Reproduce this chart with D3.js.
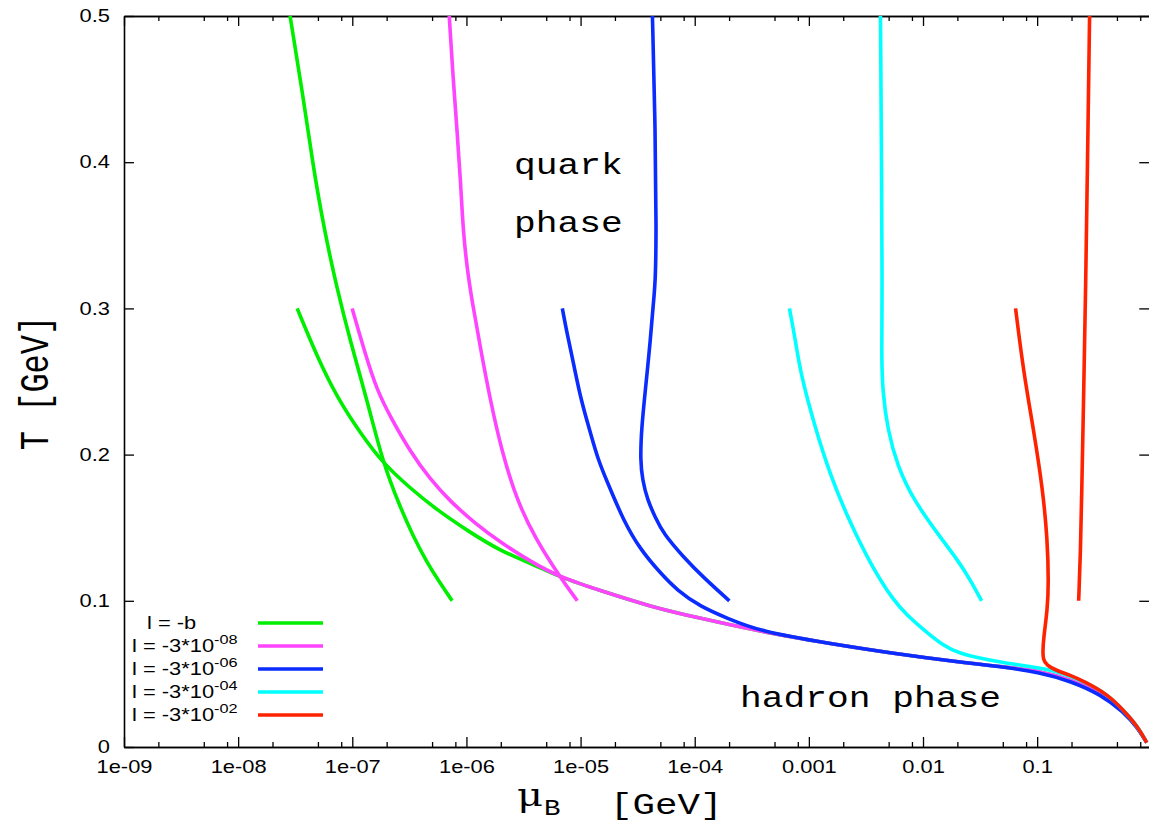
<!DOCTYPE html>
<html>
<head>
<meta charset="utf-8">
<script src="https://cdn.jsdelivr.net/npm/d3@7"></script>
<style>
  html, body { margin: 0; padding: 0; background: #fff; }
  svg { display: block; }
</style>
</head>
<body>
<svg id="chart" width="1149" height="829"></svg>
<script>
// ---------------- data ----------------
const xMajorTicks = [1e-9, 1e-8, 1e-7, 1e-6, 1e-5, 1e-4, 1e-3, 1e-2, 1e-1];
const xTickLabels = ["1e-09", "1e-08", "1e-07", "1e-06", "1e-05", "1e-04", "0.001", "0.01", "0.1"];
const xMinorFactors = [2, 5, 8];
const yTicks = [0, 0.1, 0.2, 0.3, 0.4, 0.5];
const yTickLabels = ["0", "0.1", "0.2", "0.3", "0.4", "0.5"];

const legendBase = ["l = -b", "l = -3*10", "l = -3*10", "l = -3*10", "l = -3*10"];
const legendSup  = ["", "-08", "-06", "-04", "-02"];
const seriesColors = ["#00ee00", "#ff44ff", "#0a2cff", "#00ffff", "#ff2200"];

// each l value: upper branch (from T=0.5) and lower branch (from T=0.3 into hadron boundary)
const greenUpper = [[2.85e-8,0.500],[3.64e-8,0.449],[4.54e-8,0.397],[5.67e-8,0.354],[7.37e-8,0.313],[9.58e-8,0.278],[1.35e-7,0.237],[1.86e-7,0.194],[2.63e-7,0.164],[3.42e-7,0.144],[4.53e-7,0.126],[5.89e-7,0.112],[7.50e-7,0.100]];
const greenLower = [[3.29e-8,0.300],[4.92e-8,0.267],[7.37e-8,0.239],[1.17e-7,0.215],[1.86e-7,0.194],[3.22e-7,0.177],[5.55e-7,0.162],[1.02e-6,0.148],[1.98e-6,0.134],[3.85e-6,0.125],[6.64e-6,0.116],[1.49e-5,0.107],[4.09e-5,0.096],[1.12e-4,0.088],[3.76e-4,0.079],[1.46e-3,0.071],[5.51e-3,0.064],[2.13e-2,0.058],[4.78e-2,0.055],[0.107,0.052],[0.197,0.046],[0.360,0.037],[0.573,0.025],[0.760,0.014],[0.911,0.003]];

const magentaUpper = [[7.07e-7,0.500],[7.60e-7,0.460],[8.31e-7,0.420],[8.90e-7,0.386],[9.37e-7,0.352],[1.02e-6,0.326],[1.12e-6,0.305],[1.34e-6,0.271],[1.62e-6,0.237],[2.03e-6,0.203],[2.75e-6,0.169],[4.05e-6,0.142],[6.64e-6,0.116],[9.36e-6,0.100]];
const magentaLower = [[9.97e-8,0.300],[1.32e-7,0.267],[1.65e-7,0.244],[2.15e-7,0.226],[3.22e-7,0.202],[4.82e-7,0.183],[7.21e-7,0.168],[1.19e-6,0.153],[1.98e-6,0.140],[3.62e-6,0.127],[6.64e-6,0.116],[1.49e-5,0.107],[4.09e-5,0.096],[1.12e-4,0.088],[3.76e-4,0.079],[1.46e-3,0.071],[5.51e-3,0.064],[2.13e-2,0.058],[4.78e-2,0.055],[0.107,0.052],[0.197,0.046],[0.360,0.037],[0.573,0.025],[0.760,0.014],[0.911,0.003]];

const blueUpper = [[4.26e-5,0.500],[4.52e-5,0.420],[4.61e-5,0.352],[4.52e-5,0.317],[4.34e-5,0.304],[4.09e-5,0.278],[3.69e-5,0.244],[3.41e-5,0.217],[3.34e-5,0.196],[3.48e-5,0.183],[3.85e-5,0.169],[4.52e-5,0.157],[5.31e-5,0.146],[7.95e-5,0.130],[1.19e-4,0.116],[2.01e-4,0.100]];
const blueLower = [[6.92e-6,0.300],[7.65e-6,0.282],[8.64e-6,0.263],[1.01e-5,0.237],[1.22e-5,0.215],[1.43e-5,0.196],[1.72e-5,0.181],[2.37e-5,0.155],[3.34e-5,0.135],[5.00e-5,0.119],[7.05e-5,0.107],[1.12e-4,0.096],[1.93e-4,0.088],[3.76e-4,0.079],[1.46e-3,0.071],[5.51e-3,0.064],[2.13e-2,0.058],[4.78e-2,0.055],[0.107,0.051],[0.197,0.045],[0.360,0.036],[0.573,0.024],[0.760,0.013],[0.911,0.003]];

const cyanUpper = [[4.24e-3,0.500],[4.33e-3,0.400],[4.40e-3,0.313],[4.33e-3,0.267],[4.42e-3,0.244],[4.89e-3,0.217],[5.98e-3,0.192],[8.26e-3,0.169],[1.34e-2,0.146],[2.01e-2,0.128],[2.61e-2,0.114],[3.26e-2,0.100]];
const cyanLower = [[6.76e-4,0.300],[7.63e-4,0.278],[8.44e-4,0.256],[1.10e-3,0.222],[1.55e-3,0.185],[2.31e-3,0.153],[3.47e-3,0.125],[5.51e-3,0.100],[7.32e-3,0.090],[9.51e-3,0.082],[1.51e-2,0.069],[2.13e-2,0.064],[3.01e-2,0.061],[4.78e-2,0.058],[0.107,0.054],[0.161,0.051],[0.255,0.045],[0.415,0.036],[0.573,0.025],[0.760,0.014],[0.911,0.003]];

const redUpper = [[0.288,0.500],[0.277,0.408],[0.266,0.313],[0.255,0.237],[0.245,0.169],[0.240,0.135],[0.231,0.100]];
const redLower = [[6.47e-2,0.300],[7.61e-2,0.256],[9.31e-2,0.217],[0.112,0.176],[0.123,0.142],[0.126,0.112],[0.123,0.094],[0.114,0.075],[0.112,0.065],[0.113,0.060],[0.120,0.056],[0.151,0.052],[0.197,0.049],[0.255,0.045],[0.415,0.036],[0.573,0.025],[0.760,0.014],[0.911,0.003]];

const seriesBranches = [
  [greenUpper, greenLower],
  [magentaUpper, magentaLower],
  [blueUpper, blueLower],
  [cyanUpper, cyanLower],
  [redUpper, redLower]
];

// ---------------- layout ----------------
const svg = d3.select("#chart");
const L = 124, R = 1151.3, T = 16, B = 747;
const SX = 1.25; // horizontal glyph stretch of the original
const sansFont = "'Liberation Sans', Arial, Helvetica, sans-serif";
const monoFont = "'Liberation Mono', 'Courier New', monospace";

const x = d3.scaleLog().domain([1e-9, 1]).range([L, R]);
const y = d3.scaleLinear().domain([0, 0.5]).range([B, T]);

const minorTicks = [];
xMajorTicks.forEach(d => xMinorFactors.forEach(f => { if (d * f <= 1) minorTicks.push(d * f); }));

function styleAxis(g) {
  g.selectAll("path.domain").attr("stroke", "#000").attr("stroke-width", 1.6);
  g.selectAll(".tick line").attr("stroke", "#000").attr("stroke-width", 1.3);
}

// bottom major axis with labels
const gxb = svg.append("g").attr("transform", `translate(0,${B})`)
  .call(d3.axisBottom(x).tickValues(xMajorTicks).tickFormat((d, i) => xTickLabels[i])
    .tickSizeInner(-10).tickSizeOuter(0).tickPadding(14));
styleAxis(gxb);
gxb.selectAll(".tick text").attr("font-family", sansFont).attr("font-size", 17.5)
  .attr("fill", "#000").attr("transform", `scale(${SX},1)`);
// bottom minors
const gxbm = svg.append("g").attr("transform", `translate(0,${B})`)
  .call(d3.axisBottom(x).tickValues(minorTicks).tickFormat("").tickSizeInner(-5).tickSizeOuter(0));
styleAxis(gxbm);

// top axis (mirror)
const gxt = svg.append("g").attr("transform", `translate(0,${T})`)
  .call(d3.axisTop(x).tickValues(xMajorTicks).tickFormat("").tickSizeInner(-10).tickSizeOuter(0));
styleAxis(gxt);
const gxtm = svg.append("g").attr("transform", `translate(0,${T})`)
  .call(d3.axisTop(x).tickValues(minorTicks).tickFormat("").tickSizeInner(-5).tickSizeOuter(0));
styleAxis(gxtm);

// left axis
const gyl = svg.append("g").attr("transform", `translate(${L},0)`)
  .call(d3.axisLeft(y).tickValues(yTicks).tickFormat((d, i) => yTickLabels[i])
    .tickSizeInner(-10).tickSizeOuter(0).tickPadding(14));
styleAxis(gyl);
gyl.selectAll(".tick text").attr("font-family", sansFont).attr("font-size", 17.5)
  .attr("fill", "#000").attr("transform", `scale(${SX},1)`).attr("x", -14 / SX);

// right axis (mirror)
const gyr = svg.append("g").attr("transform", `translate(${R},0)`)
  .call(d3.axisRight(y).tickValues(yTicks).tickFormat("").tickSizeInner(-12).tickSizeOuter(0));
styleAxis(gyr);

// ---------------- curves ----------------
const line = d3.line()
  .x(d => x(d[0]))
  .y(d => y(d[1]))
  .curve(d3.curveBasis);

const curves = svg.append("g");
seriesBranches.forEach((branches, i) => {
  branches.forEach(pts => {
    curves.append("path")
      .attr("d", line(pts))
      .attr("fill", "none")
      .attr("stroke", seriesColors[i])
      .attr("stroke-width", 3.6)
      .attr("stroke-linejoin", "round")
      .attr("stroke-linecap", "butt");
  });
});

// ---------------- legend ----------------
const legendY = [623, 646, 669, 692, 715];
const legend = svg.append("g");
legendBase.forEach((base, i) => {
  const g = legend.append("g");
  g.append("line")
    .attr("x1", 258).attr("x2", 323)
    .attr("y1", legendY[i]).attr("y2", legendY[i])
    .attr("stroke", seriesColors[i]).attr("stroke-width", 3.6);
  const t = g.append("text")
    .attr("transform", `translate(${i === 0 ? 147 : 132},${legendY[i] + 6}) scale(${SX},1)`)
    .attr("font-family", sansFont).attr("font-size", 17.5).attr("fill", "#000");
  t.append("tspan").text(base);
  if (legendSup[i]) {
    t.append("tspan").attr("dy", -8).attr("font-size", 13).text(legendSup[i]);
  }
});

// ---------------- annotations ----------------
function stretchedText(txt, px, py, size, family, anchor) {
  return svg.append("text")
    .attr("transform", `translate(${px},${py}) scale(${SX},1)`)
    .attr("font-family", family).attr("font-size", size)
    .attr("text-anchor", anchor || "start").attr("fill", "#000")
    .text(txt);
}
stretchedText("quark", 514, 174, 29, monoFont);
stretchedText("phase", 514, 232, 29, monoFont);
stretchedText("hadron phase", 740, 707, 29, monoFont);

// x axis title
stretchedText("\u03bc", 517, 806, 32, "'DejaVu Serif', 'Liberation Serif', serif");
stretchedText("B", 544, 815, 22, monoFont);
stretchedText("[GeV]", 610, 814, 30, monoFont);

// y axis title (rotated)
svg.append("text")
  .attr("transform", `translate(48,383) rotate(-90) scale(1,${SX})`)
  .attr("font-family", monoFont).attr("font-size", 32)
  .attr("text-anchor", "middle").attr("fill", "#000")
  .text("T [GeV]");
</script>
</body>
</html>
